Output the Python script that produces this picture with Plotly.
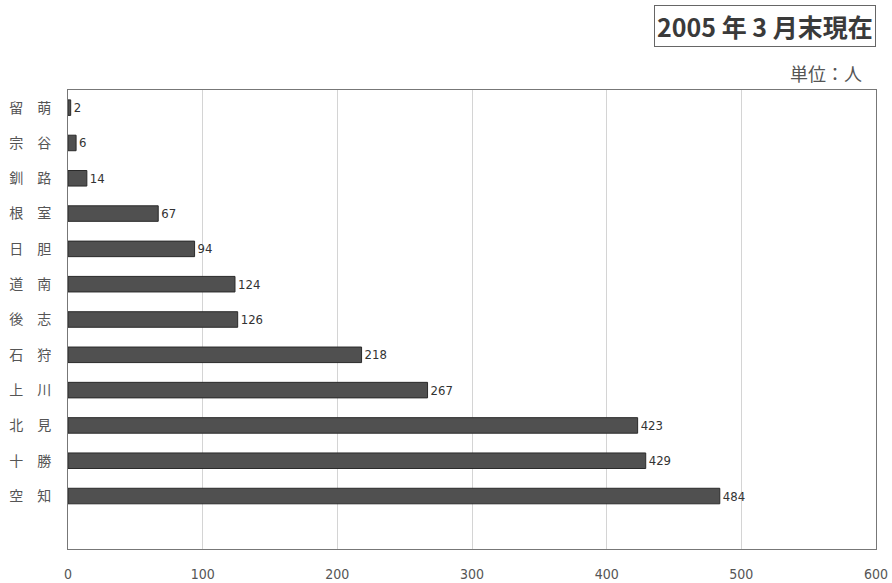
import plotly.graph_objects as go

# Regions listed from top to bottom, with member counts
regions = ["留　萌", "宗　谷", "釧　路", "根　室", "日　胆", "道　南", "後　志", "石　狩", "上　川", "北　見", "十　勝", "空　知"]
counts = [2, 6, 14, 67, 94, 124, 126, 218, 267, 423, 429, 484]
x_ticks = [0, 100, 200, 300, 400, 500, 600]

cjk = "Noto Sans CJK JP, sans-serif"
narrow = "Liberation Sans Narrow, DejaVu Sans Condensed, Arial, sans-serif"

fig = go.Figure(
    go.Bar(
        x=counts,
        y=regions,
        orientation="h",
        width=0.44,
        marker=dict(color="#505050", line=dict(color="#2a2a2a", width=1)),
        text=counts,
        textposition="outside",
        textfont=dict(family=narrow, size=13, color="#333333"),
        cliponaxis=False,
    )
)

fig.update_layout(
    width=892,
    height=583,
    margin=dict(l=68, r=16, t=90, b=34),
    paper_bgcolor="white",
    plot_bgcolor="white",
    showlegend=False,
    xaxis=dict(
        range=[0, 600],
        tickvals=x_ticks,
        automargin=False,
        showgrid=True,
        gridcolor="#d4d4d4",
        gridwidth=1,
        zeroline=False,
        showline=True,
        linecolor="#777777",
        mirror=True,
        ticks="",
        ticklabelstandoff=12,
        tickfont=dict(family=narrow, size=14, color="#555555"),
    ),
    yaxis=dict(
        type="category",
        categoryorder="array",
        categoryarray=regions[::-1],
        range=[-1.5, 11.5],
        automargin=False,
        showgrid=False,
        showline=True,
        linecolor="#777777",
        mirror=True,
        ticks="",
        ticklabelstandoff=13,
        tickfont=dict(family=cjk, size=14, color="#555555"),
    ),
    annotations=[
        dict(
            text="<b>2005 年 3 月末現在</b>",
            xref="paper", yref="paper",
            x=1.0, y=1.14,
            xanchor="right", yanchor="middle",
            showarrow=False,
            bordercolor="#666666",
            borderwidth=1,
            borderpad=2,
            font=dict(family=cjk, size=25, color="#3a3a3a"),
        ),
        dict(
            text="単位：人",
            xref="paper", yref="paper",
            x=1.0, y=1.037,
            xanchor="right", yanchor="middle",
            xshift=-12,
            showarrow=False,
            font=dict(family=cjk, size=18, color="#555555"),
        ),
    ],
)

fig.write_html("out.html")
